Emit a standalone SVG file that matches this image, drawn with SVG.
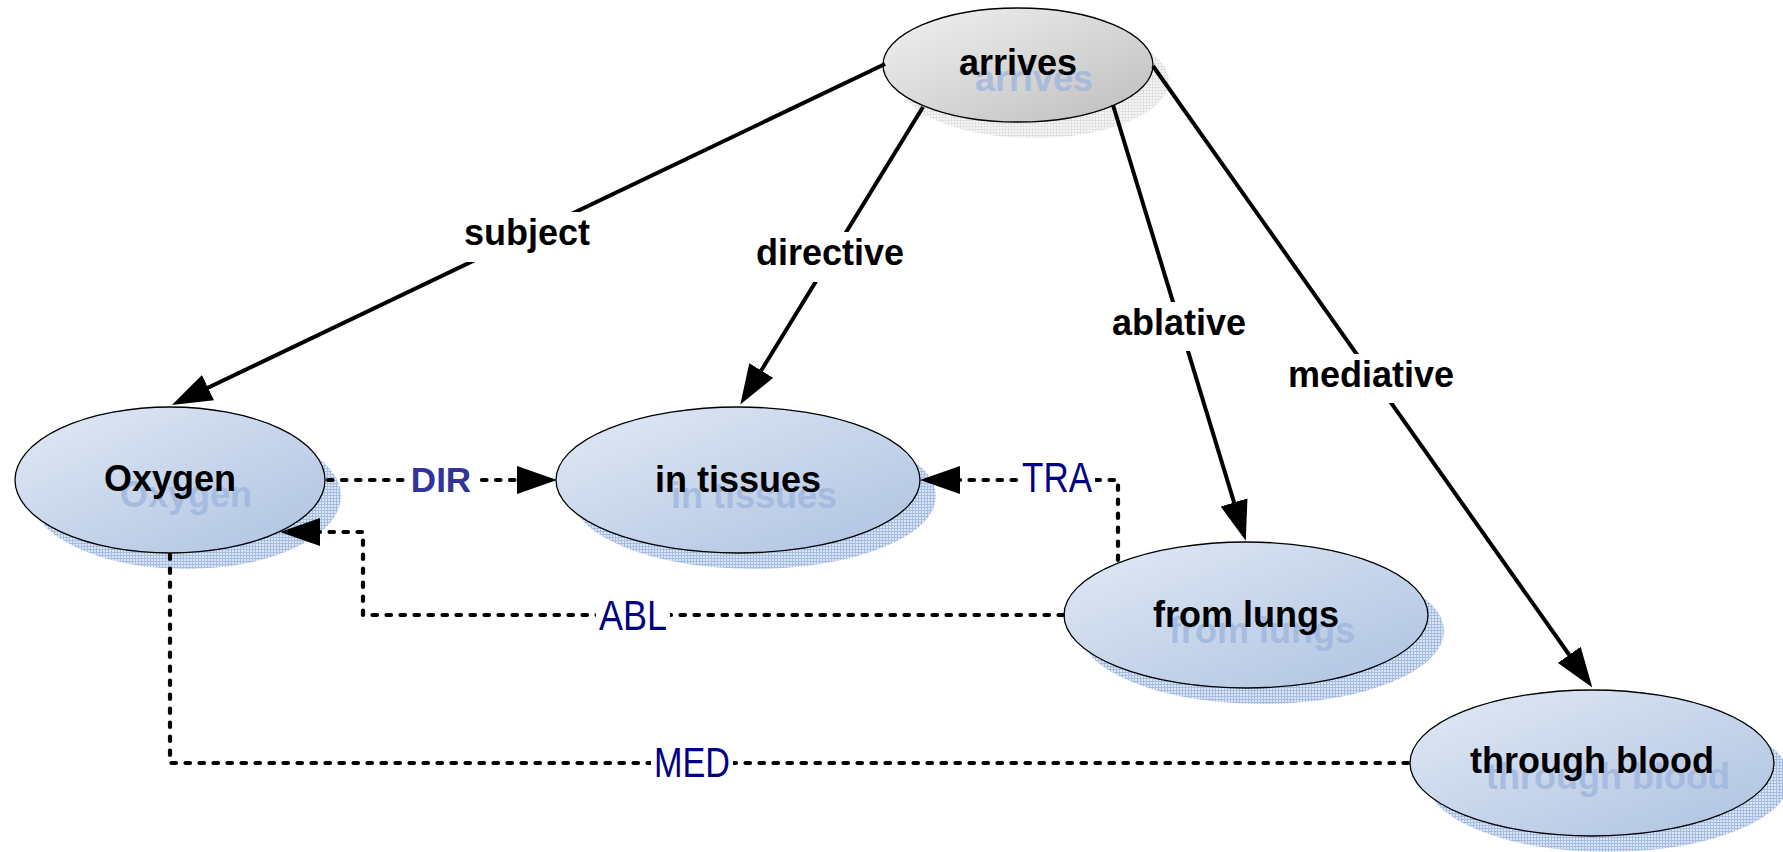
<svg xmlns="http://www.w3.org/2000/svg" width="1783" height="852" viewBox="0 0 1783 852">
<defs>
<linearGradient id="gBlue" x1="0" y1="0" x2="1" y2="1">
<stop offset="0" stop-color="#e2e9f5"/>
<stop offset="1" stop-color="#adc2e1"/>
</linearGradient>
<linearGradient id="gGray" x1="0" y1="0" x2="1" y2="1">
<stop offset="0" stop-color="#f2f2f2"/>
<stop offset="1" stop-color="#bdbdbd"/>
</linearGradient>
<pattern id="pBlue" width="3" height="3" patternUnits="userSpaceOnUse">
<rect width="3" height="3" fill="#dbe5f4"/>
<path d="M0,0.5H3M0.5,0V3" stroke="#a6bde3" stroke-width="1"/>
</pattern>
<pattern id="pGray" width="3" height="3" patternUnits="userSpaceOnUse">
<rect width="3" height="3" fill="#f6f6f6"/>
<path d="M0,0.5H3M0.5,0V3" stroke="#e2e2e2" stroke-width="1"/>
</pattern>
<marker id="arr" markerUnits="userSpaceOnUse" markerWidth="40" markerHeight="28" refX="10" refY="14" orient="auto">
<path d="M0,0L40,14L0,28z" fill="#000"/>
</marker>
</defs>
<style>
.node{stroke:#000;stroke-width:1.3}
.blue{fill:url(#gBlue)}
.gray{fill:url(#gGray)}
.shb{fill:url(#pBlue)}
.shg{fill:url(#pGray)}
.nt{font-family:"Liberation Sans",Arial,sans-serif;font-weight:bold;font-size:36px;text-anchor:middle;fill:#000}
.st{font-family:"Liberation Sans",Arial,sans-serif;font-weight:bold;font-size:36px;text-anchor:middle;fill:#9fb6dd;opacity:0.8}
.solid{fill:none;stroke:#000;stroke-width:4}
.dash{fill:none;stroke:#000;stroke-width:4.2;stroke-dasharray:4.5 9.5;stroke-linecap:round}
.lbl{font-family:"Liberation Sans",Arial,sans-serif;font-weight:bold;font-size:36px;text-anchor:middle;fill:#000}
.rel{font-family:"Liberation Sans",Arial,sans-serif;font-size:42px;text-anchor:middle;fill:#000080}
.dir{font-family:"Liberation Sans",Arial,sans-serif;font-weight:bold;font-size:35px;text-anchor:middle;fill:#333399}
.bg{fill:#fff}
</style>

<g id="node-arrives">
<ellipse class="shg" cx="1034" cy="81" rx="135" ry="57"/>
<ellipse class="node gray" cx="1018" cy="65" rx="135" ry="57"/>
<text class="st" x="1034" y="91">arrives</text>
<text class="nt" x="1018" y="75">arrives</text>
</g>

<g id="node-oxygen">
<ellipse class="shb" cx="186" cy="496" rx="155" ry="73"/>
<ellipse class="node blue" cx="170" cy="480" rx="155" ry="73"/>
<text class="st" x="186" y="507">Oxygen</text>
<text class="nt" x="170" y="491">Oxygen</text>
</g>

<g id="node-tissues">
<ellipse class="shb" cx="754" cy="496" rx="182" ry="73"/>
<ellipse class="node blue" cx="738" cy="480" rx="182" ry="73"/>
<text class="st" x="754" y="508">in tissues</text>
<text class="nt" x="738" y="492">in tissues</text>
</g>

<g id="node-lungs">
<ellipse class="shb" cx="1262" cy="631" rx="182" ry="73"/>
<ellipse class="node blue" cx="1246" cy="615" rx="182" ry="73"/>
<text class="st" x="1262" y="643">from lungs</text>
<text class="nt" x="1246" y="627">from lungs</text>
</g>

<g id="node-blood">
<ellipse class="shb" cx="1608" cy="779" rx="182" ry="73"/>
<ellipse class="node blue" cx="1592" cy="763" rx="182" ry="73"/>
<text class="st" x="1608" y="789">through blood</text>
<text class="nt" x="1592" y="773">through blood</text>
</g>

<g id="connectors">
<line class="solid" x1="885" y1="64" x2="199" y2="392" marker-end="url(#arr)"/>
<line class="solid" x1="923" y1="107" x2="756" y2="379" marker-end="url(#arr)"/>
<line class="solid" x1="1113" y1="105" x2="1237" y2="512" marker-end="url(#arr)"/>
<line class="solid" x1="1153" y1="66" x2="1575" y2="663" marker-end="url(#arr)"/>
<rect class="bg" x="455" y="212" width="145" height="50"/>
<text class="lbl" x="527" y="245">subject</text>
<rect class="bg" x="750" y="232" width="160" height="50"/>
<text class="lbl" x="830" y="265">directive</text>
<rect class="bg" x="1106" y="302" width="146" height="49"/>
<text class="lbl" x="1179" y="335">ablative</text>
<rect class="bg" x="1284" y="354" width="174" height="49"/>
<text class="lbl" x="1371" y="387">mediative</text>

<polyline class="dash" points="328,480 527,480" marker-end="url(#arr)"/>
<polyline class="dash" points="1118,560 1118,480 950,480" marker-end="url(#arr)"/>
<polyline class="dash" points="1063,615 363,615 363,532 310,532" marker-end="url(#arr)"/>
<polyline class="dash" points="1408,763 170,763 170,555"/>
<rect class="bg" x="407" y="462" width="68" height="36"/>
<text class="dir" x="441" y="492">DIR</text>
<rect class="bg" x="1019" y="458" width="76" height="40"/>
<text class="rel" x="1057" y="492" textLength="70" lengthAdjust="spacingAndGlyphs">TRA</text>
<rect class="bg" x="596" y="596" width="74" height="40"/>
<text class="rel" x="633" y="630" textLength="68" lengthAdjust="spacingAndGlyphs">ABL</text>
<rect class="bg" x="651" y="743" width="82" height="40"/>
<text class="rel" x="692" y="777" textLength="76" lengthAdjust="spacingAndGlyphs">MED</text>
</g>
</svg>
